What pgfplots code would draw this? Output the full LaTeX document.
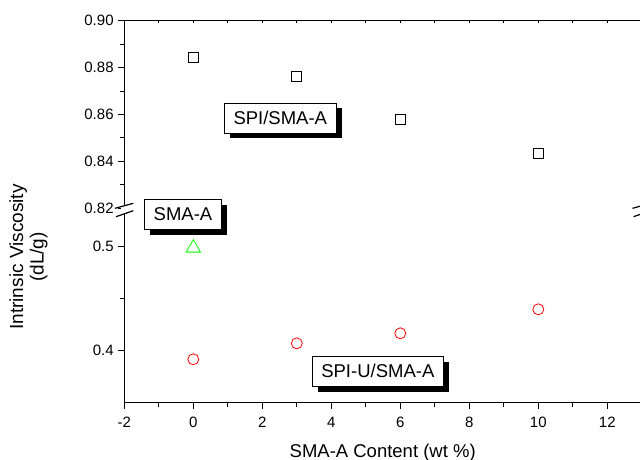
\documentclass[border=0pt]{standalone}
\usepackage{pgfplots}
\pgfplotsset{compat=1.18}
\usepackage{fontspec}
\setmainfont{Liberation Sans}
\usetikzlibrary{shadows}

\begin{document}
\begin{tikzpicture}
\useasboundingbox (0bp,0bp) rectangle (640bp,460bp);
\pgfplotsset{
  common/.style={
    scale only axis, width=517.5bp, xmin=-2, xmax=13,
    anchor=south west,
    tick align=outside,
    every tick label/.append style={font=\fontsize{15bp}{18bp}\selectfont},
    axis line style={line width=1.2bp},
    every tick/.append style={line width=0.9bp, black},
    major tick length=6.5bp, minor tick length=4bp,
    clip=false,
  }
}
\tikzset{
  boxlab/.style={draw=black, line width=0.8bp, fill=white,
    drop shadow={shadow xshift=5.5bp, shadow yshift=-5.5bp, fill=black, opacity=1},
    font=\fontsize{18.5bp}{22bp}\selectfont, inner xsep=9bp, inner ysep=0pt, minimum height=30bp}
}
% lower segment
\begin{axis}[common, at={(124.3bp,57.3bp)}, height=194.4bp, ymin=0.3498, ymax=0.5361,
  axis x line*=bottom, axis y line*=left,
  xtick={-2,0,2,4,6,8,10,12}, xticklabels={-2,0,2,4,6,8,10,12}, minor x tick num=1,
  ytick={0.4,0.5}, yticklabels={0.4,0.5}, minor y tick num=1,
  xticklabel style={inner sep=0pt, yshift=-8bp},
  yticklabel style={inner sep=0pt, xshift=-4bp},
]
\addplot[only marks, mark=o, red, mark size=5.5bp, mark options={line width=0.8bp}]
  coordinates {(0,0.3914) (3,0.4067) (6,0.4163) (10,0.4393)};
\addplot[only marks, mark=triangle, green, mark size=8.3bp, mark options={line width=0.8bp, yshift=-2bp}]
  coordinates {(0,0.5)};
\end{axis}
% upper segment
\begin{axis}[common, at={(124.3bp,251.7bp)}, height=187.6bp, ymin=0.82, ymax=0.90,
  axis x line=none, axis y line*=left,
  ytick={0.82,0.84,0.86,0.88,0.90}, yticklabels={0.82,0.84,0.86,0.88,0.90}, minor y tick num=1,
  yticklabel style={inner sep=0pt, xshift=-4bp},
]
\addplot[only marks, mark=square, black, mark size=5bp, mark options={line width=0.8bp}]
  coordinates {(0,0.8844) (3,0.8764) (6,0.8577) (10,0.8435)};
\end{axis}
% top axis line with small inward ticks
\begin{axis}[common, at={(124.3bp,251.7bp)}, height=187.6bp, ymin=0.82, ymax=0.90,
  axis x line*=top, axis y line=none, tick align=inside, major tick length=2.5bp,
  xtick={-2,-1,0,1,2,3,4,5,6,7,8,9,10,11,12,13}, xticklabels={},
]
\end{axis}
% axis breaks
\fill[white] (121.3bp,246.5bp) rectangle (127.3bp,253.8bp);
\draw[line width=1.2bp] (115bp,251.7bp) -- (133.3bp,256.7bp);
\draw[line width=1.2bp] (116bp,243.3bp) -- (133.3bp,249.3bp);
\draw[line width=1.2bp] (632.5bp,251.7bp) -- (650.8bp,256.7bp);
\draw[line width=1.2bp] (633.5bp,243.3bp) -- (650.8bp,249.3bp);
% labels
\node[boxlab] at (280.3bp,342bp) {SPI/SMA-A};
\node[boxlab] at (183bp,245.8bp) {SMA-A};
\node[boxlab] at (377.8bp,88.7bp) {SPI-U/SMA-A};
\node[rotate=90, anchor=base, font=\fontsize{19bp}{22bp}\selectfont] at (23bp,203bp) {Intrinsic Viscosity};
\node[rotate=90, anchor=base, font=\fontsize{19bp}{22bp}\selectfont] at (43.5bp,203bp) {(dL/g)};
\node[anchor=base, font=\fontsize{18.5bp}{22bp}\selectfont] at (382.7bp,2.7bp) {SMA-A Content (wt \%)};
\end{tikzpicture}
\end{document}
